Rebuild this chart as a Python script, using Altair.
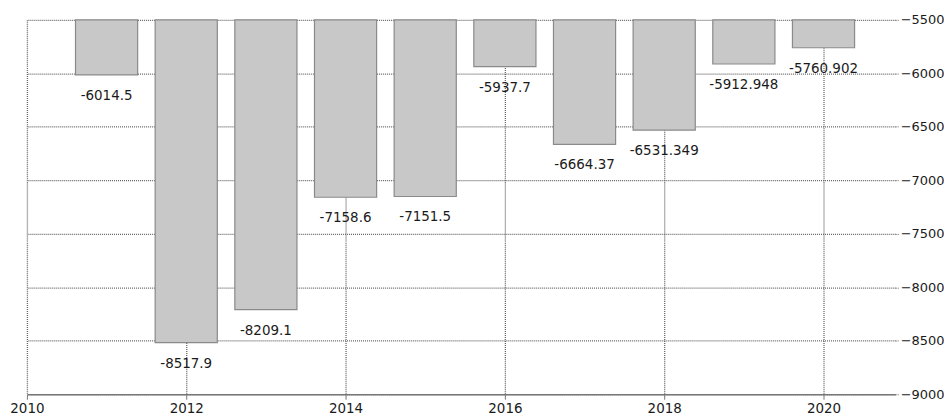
import altair as alt
import pandas as pd

years = [2011, 2012, 2013, 2014, 2015, 2016, 2017, 2018, 2019, 2020]
values = [-6014.5, -8517.9, -8209.1, -7158.6, -7151.5, -5937.7, -6664.37, -6531.349, -5912.948, -5760.902]
labels = ["-6014.5", "-8517.9", "-8209.1", "-7158.6", "-7151.5", "-5937.7", "-6664.37", "-6531.349", "-5912.948", "-5760.902"]

df = pd.DataFrame({"year": years, "value": values, "label": labels})

FONT = "DejaVu Sans"
xscale = alt.Scale(domain=[2010, 2020.9], nice=False, zero=False)
yscale = alt.Scale(domain=[-9000, -5500], nice=False, zero=False)

base = alt.Chart(df)

bars = base.transform_calculate(
    x0="datum.year - 0.39", x1="datum.year + 0.39"
).mark_bar(color="#c8c8c8", stroke="#8a8a8a", strokeWidth=1.2).encode(
    x=alt.X("x0:Q", scale=xscale, title=None,
            axis=alt.Axis(values=[2010, 2012, 2014, 2016, 2018, 2020], format="d",
                          grid=True, gridDash=[1, 1], gridColor="#666", gridWidth=1.3,
                          domain=True, domainColor="#777", domainWidth=1.5,
                          ticks=True, tickColor="#777", tickSize=5,
                          labelFont=FONT, labelFontSize=13.5, labelColor="#1a1a1a",
                          labelPadding=2, labelFlush=False)),
    x2="x1:Q",
    y=alt.Y("value:Q", scale=yscale, title=None,
            axis=alt.Axis(orient="right", values=[-5500, -6000, -6500, -7000, -7500, -8000, -8500, -9000],
                          format="d", grid=True, gridDash=[1, 1], gridColor="#666", gridWidth=1.3,
                          domain=False, ticks=True, tickDash=[1, 1], tickColor="#666", tickSize=3,
                          labelFont=FONT, labelFontSize=13, labelColor="#1a1a1a",
                          labelPadding=2, labelFlush=False)),
    y2=alt.datum(-5500),
)

text = base.mark_text(font=FONT, fontSize=13.5, color="#1a1a1a", dy=21, baseline="middle", align="center").encode(
    x=alt.X("year:Q", scale=xscale),
    y=alt.Y("value:Q", scale=yscale),
    text="label:N",
)

chart = (bars + text).properties(
    width=872, height=376,
    padding={"left": 19, "top": 11, "right": 49, "bottom": 22},
    autosize=alt.AutoSizeParams(type="none"),
).configure_view(stroke=None)

chart.save("out.html", embed_options={"renderer": "svg", "actions": False})
